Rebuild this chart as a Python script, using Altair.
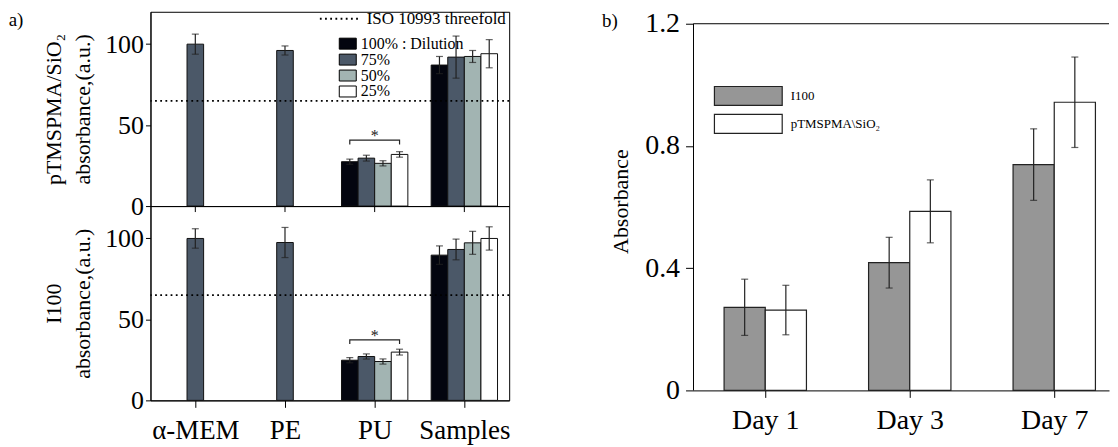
import json
import altair as alt
import pandas as pd

FONT = "Liberation Serif"

# ---------------- panel a data ----------------
categories = ["α-MEM", "PE", "PU", "Samples"]
dilutions = ["100%", "75%", "50%", "25%"]
dil_colors = ["#03050f", "#4b5868", "#a2b4b2", "#ffffff"]

ctrl_cats = ["α-MEM", "PE"]
top_ctrl_vals = [100.0, 96.1]
top_ctrl_err = [6.2, 2.8]
bot_ctrl_vals = [100.0, 97.5]
bot_ctrl_err = [6.0, 9.3]

group_cats = ["PU", "Samples"]
top_pu_vals = [27.4, 29.6, 26.4, 31.9]
top_pu_err = [1.6, 1.8, 1.6, 1.7]
top_s_vals = [87.1, 92.0, 92.4, 94.1]
top_s_err = [5.3, 13.0, 3.7, 8.7]

bot_pu_vals = [24.8, 27.1, 24.0, 29.8]
bot_pu_err = [1.6, 1.6, 1.6, 1.8]
bot_s_vals = [89.7, 93.2, 97.3, 100.0]
bot_s_err = [5.7, 6.4, 7.1, 7.2]

iso_level = 65
iso_label = "ISO 10993 threefold"
sig_top = 40.7
sig_bot = 37.4

# ---------------- panel b data ----------------
days = ["Day 1", "Day 3", "Day 7"]
series_b = ["I100", "pTMSPMA\\SiO₂"]
series_colors = ["#969696", "#ffffff"]
i100_vals = [0.272, 0.418, 0.739]
i100_err = [0.092, 0.083, 0.117]
ptm_vals = [0.263, 0.586, 0.943]
ptm_err = [0.081, 0.103, 0.148]

# ---------------- layout parameters ----------------
A_W, A_H = 360, 195
A_SLOT = 0.185            # width of one bar, in category units
B_W, B_H = 417, 380
B_SLOT = 0.285
B_DOMAIN = [-0.4966, 2.379]
B_TOP = 1.2 * B_H / 368.0
ECOL = "#222222"


def ax(**kw):
    base = dict(labelFont=FONT, titleFont=FONT, labelColor="black", titleColor="black",
                domainColor="black", tickColor="black", titleFontWeight="normal", grid=False)
    base.update(kw)
    return alt.Axis(**base)


def cat_label_expr(names):
    return json.dumps(names, ensure_ascii=False) + "[round(datum.value)]"


def make_a(ctrl_vals, ctrl_err, pu_vals, pu_err, s_vals, s_err, sig, title_lines, top, tag):
    ctrl = pd.DataFrame({"cat": ctrl_cats, "val": ctrl_vals, "err": ctrl_err})
    ctrl["pos"] = [categories.index(c) for c in ctrl["cat"]]
    grp = pd.DataFrame({
        "cat": [group_cats[0]] * 4 + [group_cats[1]] * 4,
        "dil": dilutions * 2,
        "val": list(pu_vals) + list(s_vals),
        "err": list(pu_err) + list(s_err),
    })
    grp["pos"] = [categories.index(c) + (dilutions.index(d) - 1.5) * A_SLOT
                  for c, d in zip(grp["cat"], grp["dil"])]
    for df in (ctrl, grp):
        df["lo"] = df["val"] - df["err"]
        df["hi"] = df["val"] + df["err"]
        df["x0"] = df["pos"] - A_SLOT / 2
        df["x1"] = df["pos"] + A_SLOT / 2

    xs = alt.Scale(domain=[-0.5, len(categories) - 0.5], nice=False, zero=False)
    ys = alt.Scale(domain=[0, 120], nice=False)

    if top:
        xaxis = None
    else:
        xaxis = ax(title=None, values=list(range(len(categories))), labelExpr=cat_label_expr(categories),
                   labelFontSize=27, labelAngle=0, tickSize=7, labelPadding=10, labelFlush=False)
    yaxis = ax(title=title_lines, values=[0, 50, 100], titleFontSize=22,
               labelFontSize=26, titlePadding=10, tickSize=5, labelPadding=2,
               titleLineHeight=29)

    def X(f):
        return alt.X(f"{f}:Q", scale=xs, axis=xaxis)

    def Y(f):
        return alt.Y(f"{f}:Q", scale=ys, axis=yaxis)

    if top:
        leg = alt.Legend(title=None, orient="none", legendX=190, legendY=24,
                         symbolType="M-1.55,-1H1.55V1H-1.55Z", symbolSize=121,
                         symbolStrokeColor="black", symbolStrokeWidth=1,
                         labelFont=FONT, labelColor="black",
                         labelFontSize=16, labelOffset=5, rowPadding=0,
                         labelExpr="datum.label == '100%' ? '100% : Dilution' : datum.label")
        dash_leg = alt.Legend(title=None, orient="none", legendX=181, legendY=-2,
                              symbolType="M-2.5,0H2.5", symbolSize=256,
                              symbolStrokeColor="black", symbolStrokeWidth=1.8,
                              labelFont=FONT, labelColor="black",
                              labelFontSize=17, labelOffset=18)
    else:
        leg = None
        dash_leg = None

    color = alt.Color("dil:N", scale=alt.Scale(domain=dilutions, range=dil_colors), legend=leg)

    bars_g = alt.Chart(grp).mark_bar(stroke="#111", strokeWidth=1).encode(
        x=X("x0"), x2="x1:Q", y=Y("val"), y2=alt.datum(0), color=color)
    bars_c = alt.Chart(ctrl).mark_bar(stroke="#111", strokeWidth=1, color=dil_colors[1]).encode(
        x=X("x0"), x2="x1:Q", y=Y("val"), y2=alt.datum(0))

    layers = [bars_g, bars_c]
    for df in (grp, ctrl):
        layers.append(alt.Chart(df).mark_rule(color=ECOL, strokeWidth=1.2).encode(
            x=X("pos"), y=Y("lo"), y2="hi:Q"))
        for f in ("lo", "hi"):
            layers.append(alt.Chart(df).mark_tick(orient="horizontal", size=7, thickness=1.2,
                                                  color=ECOL).encode(x=X("pos"), y=Y(f)))

    iso = alt.Chart(pd.DataFrame({"iso": [iso_level], "lab": [iso_label]})).mark_rule(
        color="black", strokeWidth=1.8).encode(
        y=Y("iso"),
        strokeDash=alt.StrokeDash("lab:N", scale=alt.Scale(domain=[iso_label], range=[[1.8, 3.4]]),
                                  legend=dash_leg))

    pu_pos = grp[grp["cat"] == "PU"]["pos"].tolist()
    br = pd.DataFrame({"xv": [pu_pos[0], pu_pos[0], pu_pos[-1], pu_pos[-1]],
                       "yv": [sig - 2.6, sig, sig, sig - 2.6], "o": [0, 1, 2, 3]})
    bracket = alt.Chart(br).mark_line(color=ECOL, strokeWidth=1.2).encode(
        x=X("xv"), y=Y("yv"), order="o:Q")
    star = alt.Chart(pd.DataFrame({"xv": [categories.index("PU")], "yv": [sig + 2.5], "t": ["*"]})).mark_text(
        font=FONT, fontSize=16, color=ECOL, baseline="middle").encode(x=X("xv"), y=Y("yv"), text="t:N")

    layers += [iso, bracket, star]

    if top:
        tag_t = alt.Chart(pd.DataFrame({"t": [tag]})).mark_text(
            font=FONT, fontSize=19, color="black", align="center", baseline="middle").encode(
            x=alt.value(-135), y=alt.value(8), text="t:N")
        layers.append(tag_t)
    else:
        mid = alt.Chart(pd.DataFrame({"xv": list(range(len(categories)))})).mark_rule(
            color="black", strokeWidth=1).encode(x=X("xv"), y=alt.value(0), y2=alt.value(6))
        layers.append(mid)

    return alt.layer(*layers).properties(
        width=A_W, height=A_H, view=alt.ViewBackground(stroke="black", strokeWidth=1))


top_a = make_a(top_ctrl_vals, top_ctrl_err, top_pu_vals, top_pu_err, top_s_vals, top_s_err,
               sig_top, ["pTMSPMA/SiO₂", "absorbance,(a.u.)"], True, "a)")
bot_a = make_a(bot_ctrl_vals, bot_ctrl_err, bot_pu_vals, bot_pu_err, bot_s_vals, bot_s_err,
               sig_bot, ["I100", "absorbance,(a.u.)"], False, "")

panel_a = alt.vconcat(top_a, bot_a, spacing=0, bounds="flush").resolve_scale(
    color="independent", strokeDash="independent")

# ---------------- panel b ----------------
bdf = pd.DataFrame({
    "day": days * 2,
    "series": [series_b[0]] * 3 + [series_b[1]] * 3,
    "val": i100_vals + ptm_vals,
    "err": i100_err + ptm_err,
})
bdf["pos"] = [days.index(d) + (series_b.index(s) - 0.5) * B_SLOT for d, s in zip(bdf["day"], bdf["series"])]
bdf["x0"] = bdf["pos"] - B_SLOT / 2
bdf["x1"] = bdf["pos"] + B_SLOT / 2
bdf["lo"] = bdf["val"] - bdf["err"]
bdf["hi"] = bdf["val"] + bdf["err"]

xs_b = alt.Scale(domain=B_DOMAIN, nice=False, zero=False)
ys_b = alt.Scale(domain=[0, B_TOP], nice=False)
xaxis_b = ax(title=None, values=list(range(len(days))), labelExpr=cat_label_expr(days),
             labelFontSize=28, labelAngle=0, tickSize=7, labelPadding=9)
yaxis_b = ax(title="Absorbance", values=[0, 0.4, 0.8, 1.2], titleFontSize=22, domain=False,
             labelFontSize=28, tickSize=8, labelPadding=6, titlePadding=12,
             labelExpr="datum.value == 0 ? '0' : format(datum.value, '.1f')")


def XB(f):
    return alt.X(f"{f}:Q", scale=xs_b, axis=xaxis_b)


def YB(f):
    return alt.Y(f"{f}:Q", scale=ys_b, axis=yaxis_b)


leg_b = alt.Legend(title=None, orient="none", legendX=44.5, legendY=74,
                   symbolType="M-3.58,-1H3.58V1H-3.58Z", symbolSize=361,
                   symbolStrokeColor="#222", symbolStrokeWidth=1.2,
                   labelFont=FONT, labelColor="black",
                   labelFontSize=13, labelOffset=32, rowPadding=3)

bars_b = alt.Chart(bdf).mark_bar(stroke="#222", strokeWidth=1.2).encode(
    x=XB("x0"), x2="x1:Q", y=YB("val"), y2=alt.datum(0),
    color=alt.Color("series:N", scale=alt.Scale(domain=series_b, range=series_colors), legend=leg_b))
err_b = alt.Chart(bdf).mark_rule(color="#222", strokeWidth=1.2).encode(
    x=XB("pos"), y=YB("lo"), y2="hi:Q")
caps_b = [alt.Chart(bdf).mark_tick(orient="horizontal", size=7, thickness=1.2, color="#222").encode(
    x=XB("pos"), y=YB(f)) for f in ("lo", "hi")]
frame = pd.DataFrame({"y0": [0.0], "y1": [1.2]})
top_line = alt.Chart(frame).mark_rule(color="black", strokeWidth=1).encode(
    x=alt.value(0), x2=alt.value(B_W), y=YB("y1"))
left_line = alt.Chart(frame).mark_rule(color="black", strokeWidth=1).encode(
    x=alt.value(0), y=YB("y0"), y2="y1:Q")
tag_b = alt.Chart(pd.DataFrame({"t": ["b)"]})).mark_text(
    font=FONT, fontSize=19, color="black", align="center", baseline="middle").encode(
    x=alt.value(-84), y=alt.value(9), text="t:N")

panel_b = alt.layer(bars_b, err_b, *caps_b, top_line, left_line, tag_b).properties(width=B_W, height=B_H)

chart = alt.hconcat(panel_a, panel_b, spacing=91).resolve_scale(
    color="independent", strokeDash="independent").properties(padding=0).configure(
    font=FONT).configure_axis(
    grid=False, labelFont=FONT, titleFont=FONT, labelColor="black", titleColor="black",
    domainColor="black", tickColor="black", titleFontWeight="normal", domainWidth=1
).configure_legend(labelFont=FONT, labelColor="black").configure_view(stroke=None)

chart.save("out.html", embed_options={"renderer": "svg", "actions": False})
